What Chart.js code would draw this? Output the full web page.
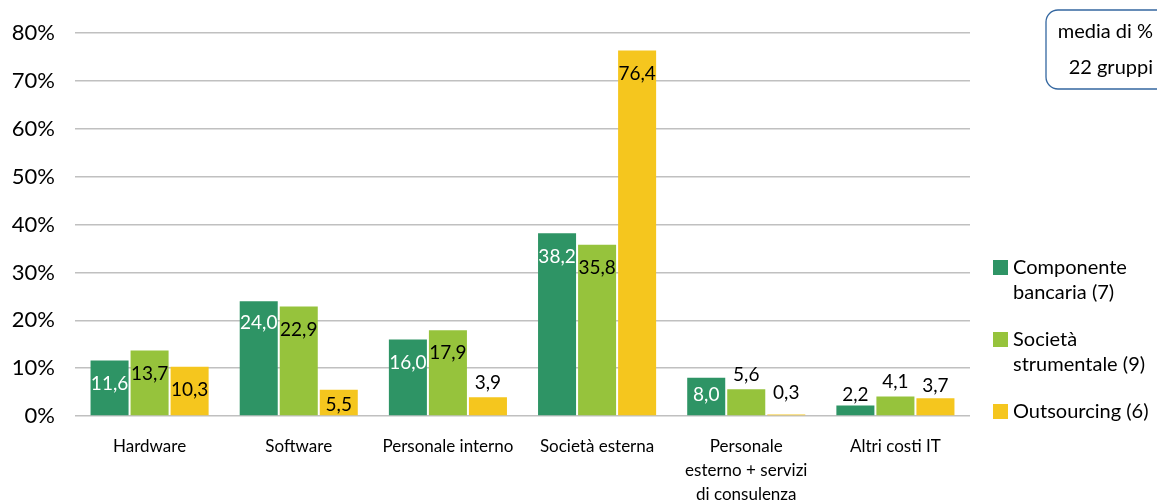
<!DOCTYPE html>
<html lang="it">
<head>
<meta charset="utf-8">
<title>Costi IT per tipologia di gruppo</title>
<script src="https://cdn.jsdelivr.net/npm/chart.js@4.4.1/dist/chart.umd.min.js"></script>
<style>
  html, body { margin: 0; padding: 0; background: #fff; }
  #wrap { width: 1157px; height: 504px; }
</style>
</head>
<body>
<div id="wrap"><canvas id="costiChart" width="1157" height="504"></canvas></div>
<script>
const categorie = ['Hardware', 'Software', 'Personale interno', 'Società esterna', ['Personale', 'esterno + servizi', 'di consulenza'], 'Altri costi IT'];
const componenteBancaria = [11.6, 24.0, 16.0, 38.2, 8.0, 2.2];
const societaStrumentale = [13.7, 22.9, 17.9, 35.8, 5.6, 4.1];
const outsourcing = [10.3, 5.5, 3.9, 76.4, 0.3, 3.7];
const nomiSerie = [['Componente', 'bancaria (7)'], ['Società', 'strumentale (9)'], ['Outsourcing (6)']];
const tickY = [0, 10, 20, 30, 40, 50, 60, 70, 80];
const nota = ['media di %', '22 gruppi'];

const colori = ['#2E9465', '#96C33C', '#F5C61E'];
const FONT = 'Lato, "Open Sans", sans-serif';

// distanza in px del centro dell'etichetta dalla cima della barra (negativa = sopra)
const etichettaDy = [
  [23, 22, 23, 24, 17, -11],
  [23, 23, 23, 23, -14, -15],
  [23, 15, -14, 23, -22, -12]
];

const formatta = v => v.toFixed(1).replace('.', ',');

const etichette = {
  id: 'etichette',
  afterDatasetsDraw(chart) {
    const ctx = chart.ctx;
    ctx.save();
    ctx.font = '19px ' + FONT;
    ctx.textAlign = 'center';
    ctx.textBaseline = 'middle';
    chart.data.datasets.forEach((ds, d) => {
      chart.getDatasetMeta(d).data.forEach((bar, i) => {
        const dy = etichettaDy[d][i];
        ctx.fillStyle = (d === 0 && dy > 0) ? '#ffffff' : '#000000';
        ctx.fillText(formatta(ds.data[i]), bar.x, bar.y + dy);
      });
    });
    ctx.restore();
  }
};

// legenda a destra e riquadro con la nota in alto
const legendaENota = {
  id: 'legendaENota',
  afterDraw(chart) {
    const ctx = chart.ctx;
    const x0 = chart.chartArea.right;
    ctx.save();
    ctx.font = '20px ' + FONT;
    ctx.textAlign = 'left';
    ctx.textBaseline = 'middle';
    let y = 268;
    nomiSerie.forEach((righe, s) => {
      ctx.fillStyle = colori[s];
      ctx.fillRect(x0 + 23, y - 8, 15, 15);
      ctx.fillStyle = '#000';
      righe.forEach((r, k) => ctx.fillText(r, x0 + 43, y + k * 25));
      y += righe.length * 25 + 22;
    });

    ctx.beginPath();
    ctx.roundRect(1046, 10, 140, 79, 12);
    ctx.strokeStyle = '#3467A0';
    ctx.lineWidth = 1.3;
    ctx.stroke();
    ctx.font = '20px ' + FONT;
    ctx.textAlign = 'right';
    ctx.fillStyle = '#000';
    ctx.fillText(nota[0], 1153, 32);
    ctx.fillText(nota[1], 1153, 68);
    ctx.restore();
  }
};

new Chart(document.getElementById('costiChart'), {
  type: 'bar',
  data: {
    labels: categorie,
    datasets: [
      { label: nomiSerie[0].join(' '), data: componenteBancaria, backgroundColor: colori[0] },
      { label: nomiSerie[1].join(' '), data: societaStrumentale, backgroundColor: colori[1] },
      { label: nomiSerie[2].join(' '), data: outsourcing, backgroundColor: colori[2] }
    ]
  },
  options: {
    responsive: false,
    animation: false,
    devicePixelRatio: 1,
    categoryPercentage: 0.805,
    barPercentage: 0.95,
    layout: { padding: { top: 32, right: 187, left: 0, bottom: 0 } },
    plugins: {
      legend: { display: false },
      tooltip: { enabled: false }
    },
    scales: {
      x: {
        grid: { display: false, drawTicks: false },
        border: { display: false },
        ticks: {
          color: '#000',
          font: { family: FONT, size: 17, lineHeight: 1.4 },
          padding: 19,
          maxRotation: 0,
          autoSkip: false
        },
        afterFit: s => { s.height = 88; }
      },
      y: {
        min: 0,
        max: 80,
        afterBuildTicks: axis => { axis.ticks = tickY.map(v => ({ value: v })); },
        grid: { color: '#C0C0C0', lineWidth: 1.5, drawTicks: false },
        border: { display: false },
        ticks: {
          color: '#000',
          font: { family: FONT, size: 22 },
          padding: 20,
          callback: v => v + '%'
        },
        afterFit: s => { s.width = 75; }
      }
    }
  },
  plugins: [etichette, legendaENota]
});
</script>
</body>
</html>
